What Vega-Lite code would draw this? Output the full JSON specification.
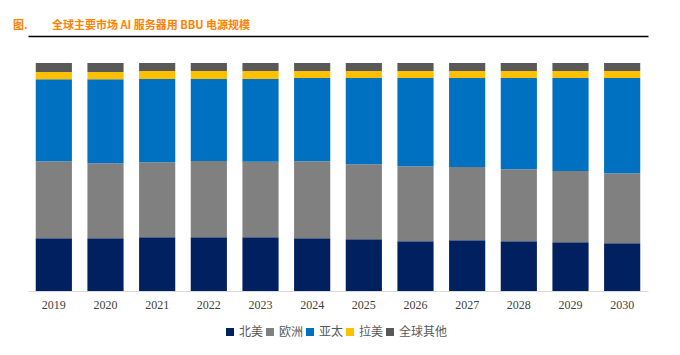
{
  "$schema": "https://vega.github.io/schema/vega-lite/v6.json",
  "autosize": "none",
  "width": 620,
  "height": 228,
  "padding": {"left": 28, "top": 63, "right": 32, "bottom": 64},
  "background": "white",
  "config": {"view": {"stroke": null}},
  "title": {
    "text": "图.\u3000\u3000\u00a0全球主要市场 AI 服务器用 BBU 电源规模",
    "anchor": "start",
    "frame": "group",
    "dx": -15,
    "font": "Noto Sans CJK SC",
    "fontSize": 11,
    "fontWeight": "bold",
    "color": "#FF8200",
    "offset": 5
  },
  "data": {
    "values": [
      {"year": "2019", "region": "北美", "o": 1, "v": 23.1},
      {"year": "2019", "region": "欧洲", "o": 2, "v": 33.8},
      {"year": "2019", "region": "亚太", "o": 3, "v": 36.0},
      {"year": "2019", "region": "拉美", "o": 4, "v": 3.1},
      {"year": "2019", "region": "全球其他", "o": 5, "v": 4.0},
      {"year": "2020", "region": "北美", "o": 1, "v": 23.1},
      {"year": "2020", "region": "欧洲", "o": 2, "v": 32.9},
      {"year": "2020", "region": "亚太", "o": 3, "v": 36.9},
      {"year": "2020", "region": "拉美", "o": 4, "v": 3.1},
      {"year": "2020", "region": "全球其他", "o": 5, "v": 4.0},
      {"year": "2021", "region": "北美", "o": 1, "v": 23.6},
      {"year": "2021", "region": "欧洲", "o": 2, "v": 32.9},
      {"year": "2021", "region": "亚太", "o": 3, "v": 36.5},
      {"year": "2021", "region": "拉美", "o": 4, "v": 3.5},
      {"year": "2021", "region": "全球其他", "o": 5, "v": 3.5},
      {"year": "2022", "region": "北美", "o": 1, "v": 23.6},
      {"year": "2022", "region": "欧洲", "o": 2, "v": 33.4},
      {"year": "2022", "region": "亚太", "o": 3, "v": 36.0},
      {"year": "2022", "region": "拉美", "o": 4, "v": 3.5},
      {"year": "2022", "region": "全球其他", "o": 5, "v": 3.5},
      {"year": "2023", "region": "北美", "o": 1, "v": 23.6},
      {"year": "2023", "region": "欧洲", "o": 2, "v": 33.1},
      {"year": "2023", "region": "亚太", "o": 3, "v": 36.3},
      {"year": "2023", "region": "拉美", "o": 4, "v": 3.5},
      {"year": "2023", "region": "全球其他", "o": 5, "v": 3.5},
      {"year": "2024", "region": "北美", "o": 1, "v": 23.1},
      {"year": "2024", "region": "欧洲", "o": 2, "v": 33.8},
      {"year": "2024", "region": "亚太", "o": 3, "v": 36.5},
      {"year": "2024", "region": "拉美", "o": 4, "v": 3.1},
      {"year": "2024", "region": "全球其他", "o": 5, "v": 3.5},
      {"year": "2025", "region": "北美", "o": 1, "v": 22.7},
      {"year": "2025", "region": "欧洲", "o": 2, "v": 32.9},
      {"year": "2025", "region": "亚太", "o": 3, "v": 37.8},
      {"year": "2025", "region": "拉美", "o": 4, "v": 3.1},
      {"year": "2025", "region": "全球其他", "o": 5, "v": 3.5},
      {"year": "2026", "region": "北美", "o": 1, "v": 21.8},
      {"year": "2026", "region": "欧洲", "o": 2, "v": 32.9},
      {"year": "2026", "region": "亚太", "o": 3, "v": 38.7},
      {"year": "2026", "region": "拉美", "o": 4, "v": 3.1},
      {"year": "2026", "region": "全球其他", "o": 5, "v": 3.5},
      {"year": "2027", "region": "北美", "o": 1, "v": 22.3},
      {"year": "2027", "region": "欧洲", "o": 2, "v": 32.1},
      {"year": "2027", "region": "亚太", "o": 3, "v": 39.1},
      {"year": "2027", "region": "拉美", "o": 4, "v": 3.1},
      {"year": "2027", "region": "全球其他", "o": 5, "v": 3.5},
      {"year": "2028", "region": "北美", "o": 1, "v": 21.8},
      {"year": "2028", "region": "欧洲", "o": 2, "v": 31.6},
      {"year": "2028", "region": "亚太", "o": 3, "v": 40.0},
      {"year": "2028", "region": "拉美", "o": 4, "v": 3.1},
      {"year": "2028", "region": "全球其他", "o": 5, "v": 3.5},
      {"year": "2029", "region": "北美", "o": 1, "v": 21.4},
      {"year": "2029", "region": "欧洲", "o": 2, "v": 31.2},
      {"year": "2029", "region": "亚太", "o": 3, "v": 40.8},
      {"year": "2029", "region": "拉美", "o": 4, "v": 3.1},
      {"year": "2029", "region": "全球其他", "o": 5, "v": 3.5},
      {"year": "2030", "region": "北美", "o": 1, "v": 20.9},
      {"year": "2030", "region": "欧洲", "o": 2, "v": 30.7},
      {"year": "2030", "region": "亚太", "o": 3, "v": 41.7},
      {"year": "2030", "region": "拉美", "o": 4, "v": 3.1},
      {"year": "2030", "region": "全球其他", "o": 5, "v": 3.5}
    ]
  },
  "layer": [
    {
      "mark": {"type": "bar", "opacity": 0},
      "encoding": {
        "x": {
          "field": "year", "type": "ordinal",
          "scale": {"paddingInner": 0.3, "paddingOuter": 0.15},
          "axis": {"orient": "top", "offset": 27, "title": null, "labels": false, "ticks": false, "domainColor": "#000000", "domainWidth": 1.5}
        },
        "y": {"field": "v", "type": "quantitative", "stack": "normalize", "axis": null}
      }
    },
    {
      "mark": {"type": "bar"},
      "encoding": {
        "x": {
          "field": "year", "type": "ordinal",
          "scale": {"paddingInner": 0.3, "paddingOuter": 0.15},
          "axis": {"orient": "bottom", "title": null, "labelAngle": 0, "ticks": false, "domainColor": "#d9d9d9", "domainWidth": 1, "labelFont": "Liberation Serif", "labelFontSize": 12, "labelColor": "#404040", "labelPadding": 8}
        },
        "y": {"field": "v", "type": "quantitative", "stack": "normalize", "axis": null},
        "color": {
          "field": "region", "type": "nominal",
          "scale": {"domain": ["北美", "欧洲", "亚太", "拉美", "全球其他"], "range": ["#002060", "#808080", "#0070C0", "#FFC000", "#595959"]},
          "legend": {"orient": "none", "legendX": 196, "legendY": 263, "direction": "horizontal", "title": null, "symbolType": "square", "symbolSize": 64, "symbolStrokeWidth": 0, "labelFont": "Noto Sans CJK SC", "labelFontSize": 12, "labelColor": "#595959", "labelOffset": 3, "columnPadding": -3}
        },
        "order": {"field": "o", "type": "quantitative"}
      }
    }
  ],
  "resolve": {"axis": {"x": "independent"}}
}
